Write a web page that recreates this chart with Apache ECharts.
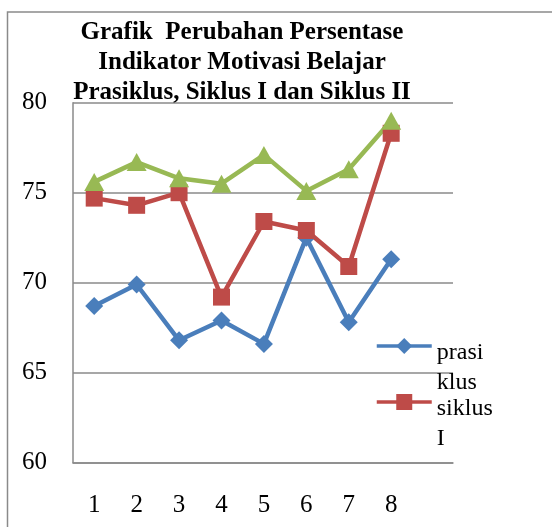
<!DOCTYPE html>
<html>
<head>
<meta charset="utf-8">
<script src="https://cdn.jsdelivr.net/npm/echarts@6/dist/echarts.min.js"></script>
<style>
html,body{margin:0;padding:0;background:#fff;}
#c{width:552px;height:527px;}
</style>
</head>
<body>
<div id="c"></div>
<script>
const categories = ['1','2','3','4','5','6','7','8'];
const prasiklus = [68.7, 69.9, 66.8, 67.9, 66.6, 72.5, 67.8, 71.3];
const siklus1 = [74.7, 74.3, 75.0, 69.2, 73.4, 72.9, 70.9, 78.3];
const siklus2 = [75.6, 76.7, 75.8, 75.5, 77.1, 75.1, 76.3, 79.0];
const seriesNames = ['prasiklus', 'siklus I', 'siklus II'];
const legendLabels = {'prasiklus': ['prasi', 'klus'], 'siklus I': ['siklus', 'I']};
const titleText = 'Grafik  Perubahan Persentase\nIndikator Motivasi Belajar\nPrasiklus, Siklus I dan Siklus II';

const FONT = "'Times New Roman', 'Liberation Serif', serif";
const chart = echarts.init(document.getElementById('c'), null, {renderer: 'canvas'});

const gridTop = 102.7, gridH = 360, gridLeft = 73;

const legendText = {
  fontFamily: FONT, fontSize: 24, color: '#000',
  rich: {
    s: {fontSize: 10, lineHeight: 44},
    a: {fontFamily: FONT, fontSize: 24, lineHeight: 30, color: '#000'}
  }
};
const legendFmt = n => '{s| }\n{a|' + legendLabels[n][0] + '}\n{a|' + legendLabels[n][1] + '}';

chart.setOption({
  animation: false,
  backgroundColor: '#fff',
  title: {
    text: titleText,
    left: 242, top: 18, textAlign: 'center', padding: 0,
    textStyle: {fontFamily: FONT, fontSize: 25, fontWeight: 'bold', color: '#000', lineHeight: 30}
  },
  graphic: [{
    type: 'rect', silent: true, z: -1,
    shape: {x: 7.5, y: 12, width: 700, height: 700},
    style: {fill: 'none', stroke: '#8a8a8a', lineWidth: 1.5}
  }],
  legend: [
    {data: [seriesNames[0]], left: 370, top: 306, orient: 'vertical', itemWidth: 55, itemHeight: 20,
     lineStyle: {width: 3.5}, formatter: legendFmt, textStyle: legendText},
    {data: [seriesNames[1]], left: 370, top: 362, orient: 'vertical', itemWidth: 55, itemHeight: 20,
     lineStyle: {width: 3.5}, formatter: legendFmt, textStyle: legendText}
  ],
  grid: [
    {left: gridLeft, top: gridTop, width: 380, height: gridH},
    {left: gridLeft, top: gridTop, width: 339.4, height: gridH}
  ],
  xAxis: [
    {gridIndex: 0, type: 'value', min: 0, max: 1, axisLine: {show: true, lineStyle: {color: '#8a8a8a', width: 1.5}},
     axisTick: {show: false}, axisLabel: {show: false}, splitLine: {show: false}},
    {gridIndex: 1, type: 'category', data: categories, boundaryGap: true,
     axisLine: {show: false}, axisTick: {show: false},
     axisLabel: {margin: 30, fontFamily: FONT, fontSize: 25, color: '#000'}}
  ],
  yAxis: [
    {gridIndex: 0, type: 'value', min: 60, max: 80, interval: 5,
     axisLine: {show: true, lineStyle: {color: '#8a8a8a', width: 1.5}}, axisTick: {show: false},
     axisLabel: {margin: 26, fontFamily: FONT, fontSize: 25, color: '#000'},
     splitLine: {show: true, lineStyle: {color: '#8a8a8a', width: 1.5}}},
    {gridIndex: 1, type: 'value', min: 60, max: 80, interval: 5, show: false, splitLine: {show: false}}
  ],
  series: [
    {name: seriesNames[0], type: 'line', xAxisIndex: 1, yAxisIndex: 1, data: prasiklus,
     symbol: 'diamond', symbolSize: [18, 18], color: '#4A7EBB',
     lineStyle: {width: 4.5, color: '#4A7EBB'}, itemStyle: {color: '#4A7EBB'}},
    {name: seriesNames[1], type: 'line', xAxisIndex: 1, yAxisIndex: 1, data: siklus1,
     symbol: 'rect', symbolSize: 17, color: '#BE4B48',
     lineStyle: {width: 4.5, color: '#BE4B48'}, itemStyle: {color: '#BE4B48'}},
    {name: seriesNames[2], type: 'line', xAxisIndex: 1, yAxisIndex: 1, data: siklus2,
     symbol: 'triangle', symbolSize: [20, 18], color: '#98B954',
     lineStyle: {width: 4.5, color: '#98B954'}, itemStyle: {color: '#98B954'}}
  ]
});
</script>
</body>
</html>
